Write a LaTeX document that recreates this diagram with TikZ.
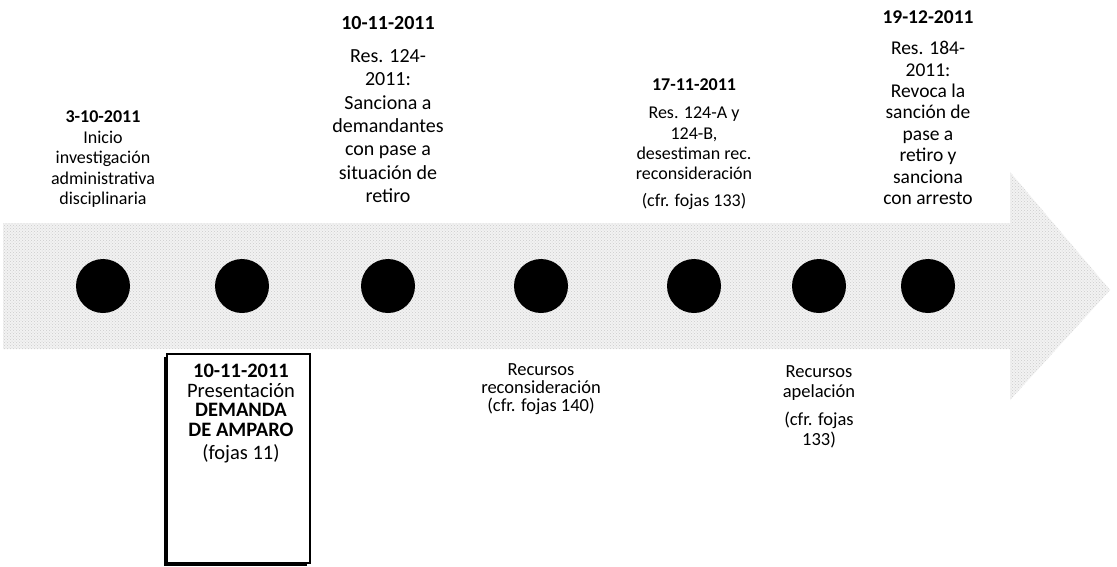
\documentclass[tikz,border=0pt]{standalone}
\usepackage{fontspec}
\setmainfont{Carlito}
\usetikzlibrary{positioning,shadows,patterns}

\begin{document}
\begin{tikzpicture}[
  x=1pt, y=-1pt,
  ev/.style={circle, fill=black, minimum size=54pt, inner sep=0pt},
  up/.style={align=center, inner sep=0pt, font=\fontsize{18}{20.3}\selectfont},
  down/.style={align=center, inner sep=0pt, font=\fontsize{18.5}{18}\selectfont},
  frame/.style={draw, line width=2pt, fill=white, minimum width=143pt, minimum height=209pt, inner sep=0pt, drop shadow={shadow xshift=-2.5pt, shadow yshift=-2.5pt, fill=black, opacity=1}},
  inbox/.style={align=center, inner sep=0pt, font=\fontsize{20.5}{19.5}\selectfont},
]
\fill[white] (0,0) rectangle (1117,566);
\useasboundingbox (0,0) rectangle (1117,566);
% the grey time arrow
\path[fill=black!5, postaction={pattern=crosshatch dots, pattern color=black!20}]
  (3,223) -- (1010,223) -- (1010,172) -- (1110,290) -- (1010,400) -- (1010,349) -- (3,349) -- cycle;
% events on the line
\node[ev] (ev1) at (103,286) {};
\node[ev] (ev2) at (242,286) {};
\node[ev] (ev3) at (388,286) {};
\node[ev] (ev4) at (541,286) {};
\node[ev] (ev5) at (694,286) {};
\node[ev] (ev6) at (819,286) {};
\node[ev] (ev7) at (928,286) {};
% texts above the line
\node[up, font=\fontsize{18}{20.5}\selectfont, above=51pt of ev1] (lab1) {\textbf{3-10-2011}\\Inicio\\investigación\\administrativa\\disciplinaria};
\node[up, font=\fontsize{20}{23.3}\selectfont, above=56pt of ev3] (lab3) {\textbf{10-11-2011}\\[10pt]Res. 124-\\2011:\\Sanciona a\\demandantes\\con pase a\\situación de\\retiro};
\node[up, above=49pt of ev5] (lab5) {\textbf{17-11-2011}\\[8.5pt]Res. 124-A y\\124-B,\\desestiman rec.\\reconsideración\\[6.5pt](cfr. fojas 133)};
\node[up, font=\fontsize{19.5}{21.4}\selectfont, above=54pt of ev7] (lab7) {\textbf{19-12-2011}\\[10pt]Res. 184-\\2011:\\Revoca la\\sanción de\\pase a\\retiro y\\sanciona\\con arresto};
% texts below the line
\node[down, below=50pt of ev4] (lab4) {Recursos\\reconsideración\\(cfr. fojas 140)};
\node[down, font=\fontsize{18.5}{20}\selectfont, below=52pt of ev6] (lab6) {Recursos\\apelación\\[8pt](cfr. fojas\\133)};
% the amparo box
\node[frame, below=40pt of ev2, xshift=-4pt] (amparo) {};
\node[inbox, below=51pt of ev2, xshift=-1pt] (amparotxt) {\textbf{10-11-2011}\\Presentación\\\textbf{DEMANDA}\\\textbf{DE AMPARO}\\[4pt](fojas 11)};
\end{tikzpicture}
\end{document}
